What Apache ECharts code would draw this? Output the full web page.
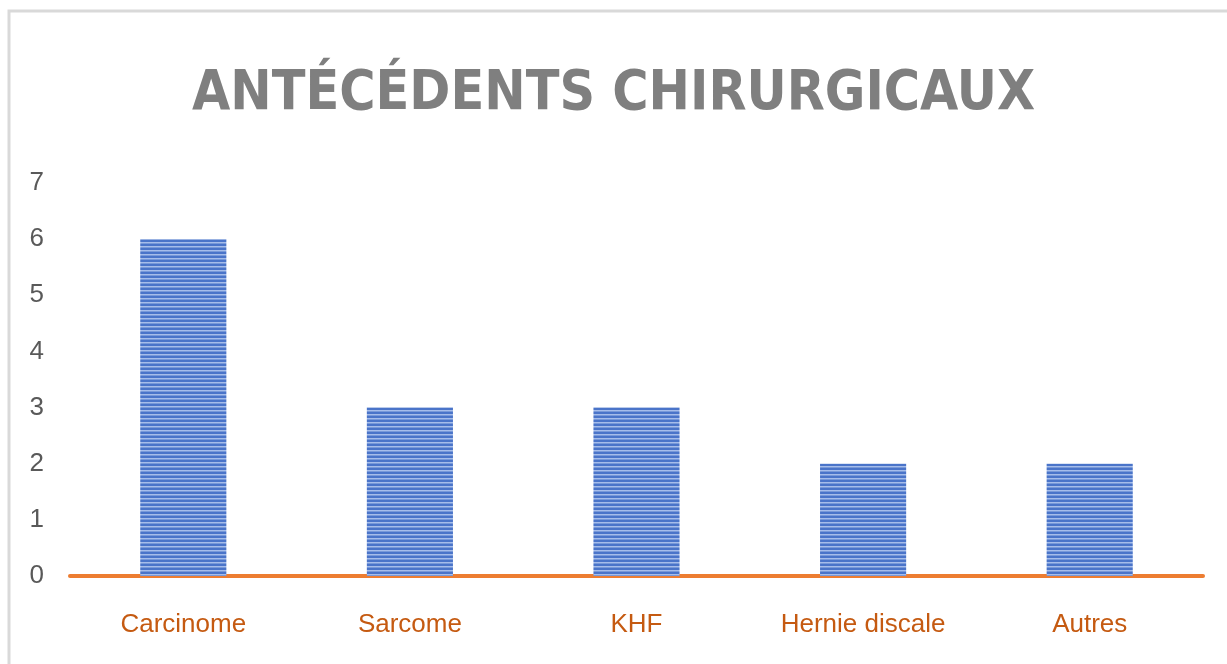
<!DOCTYPE html>
<html>
<head>
<meta charset="utf-8">
<script src="https://cdn.jsdelivr.net/npm/echarts@6/dist/echarts.min.js"></script>
<style>
  html, body { margin: 0; padding: 0; background: #fff; }
  #main { width: 1227px; height: 664px; }
</style>
</head>
<body>
<div id="main"></div>
<script>
var categories = ['Carcinome', 'Sarcome', 'KHF', 'Hernie discale', 'Autres'];
var counts = [6, 3, 3, 2, 2];
var titleText = 'ANTÉCÉDENTS CHIRURGICAUX';

// horizontal stripe fill like the Office pattern
var stripe = document.createElement('canvas');
stripe.width = 8;
stripe.height = 4;
var ctx = stripe.getContext('2d');
ctx.fillStyle = '#4a74c9';
ctx.fillRect(0, 0, 8, 4);
ctx.fillStyle = '#a6bdea';
ctx.fillRect(0, 2, 8, 1.5);

var myChart = echarts.init(document.getElementById('main'));

var option = {
    backgroundColor: '#fff',
    animation: false,
    title: {
        text: titleText,
        left: 'center',
        top: 62,
        textStyle: {
            fontFamily: 'DejaVu Sans Condensed, sans-serif',
            fontWeight: 'bold',
            fontSize: 55,
            color: '#7f7f7f'
        }
    },
    graphic: [{
        type: 'rect',
        shape: { x: 9, y: 11, width: 1240, height: 700 },
        style: { fill: 'none', stroke: '#d9d9d9', lineWidth: 3 },
        silent: true
    }],
    grid: { left: 70, right: 24, top: 183, bottom: 88 },
    xAxis: {
        type: 'category',
        data: categories,
        axisLine: { lineStyle: { color: '#ed7d31', width: 4 } },
        axisTick: { show: false },
        axisLabel: {
            color: '#c55a11',
            fontSize: 26,
            margin: 36,
            fontFamily: 'Liberation Sans, sans-serif'
        }
    },
    yAxis: {
        type: 'value',
        min: 0,
        max: 7,
        interval: 1,
        splitLine: { show: false },
        axisLine: { show: false },
        axisTick: { show: false },
        axisLabel: {
            color: '#595959',
            fontSize: 26,
            margin: 26,
            fontFamily: 'Liberation Sans, sans-serif'
        }
    },
    series: [{
        type: 'bar',
        data: counts,
        barWidth: '38%',
        itemStyle: { color: { image: stripe, repeat: 'repeat' } }
    }]
};

myChart.setOption(option);
</script>
</body>
</html>
